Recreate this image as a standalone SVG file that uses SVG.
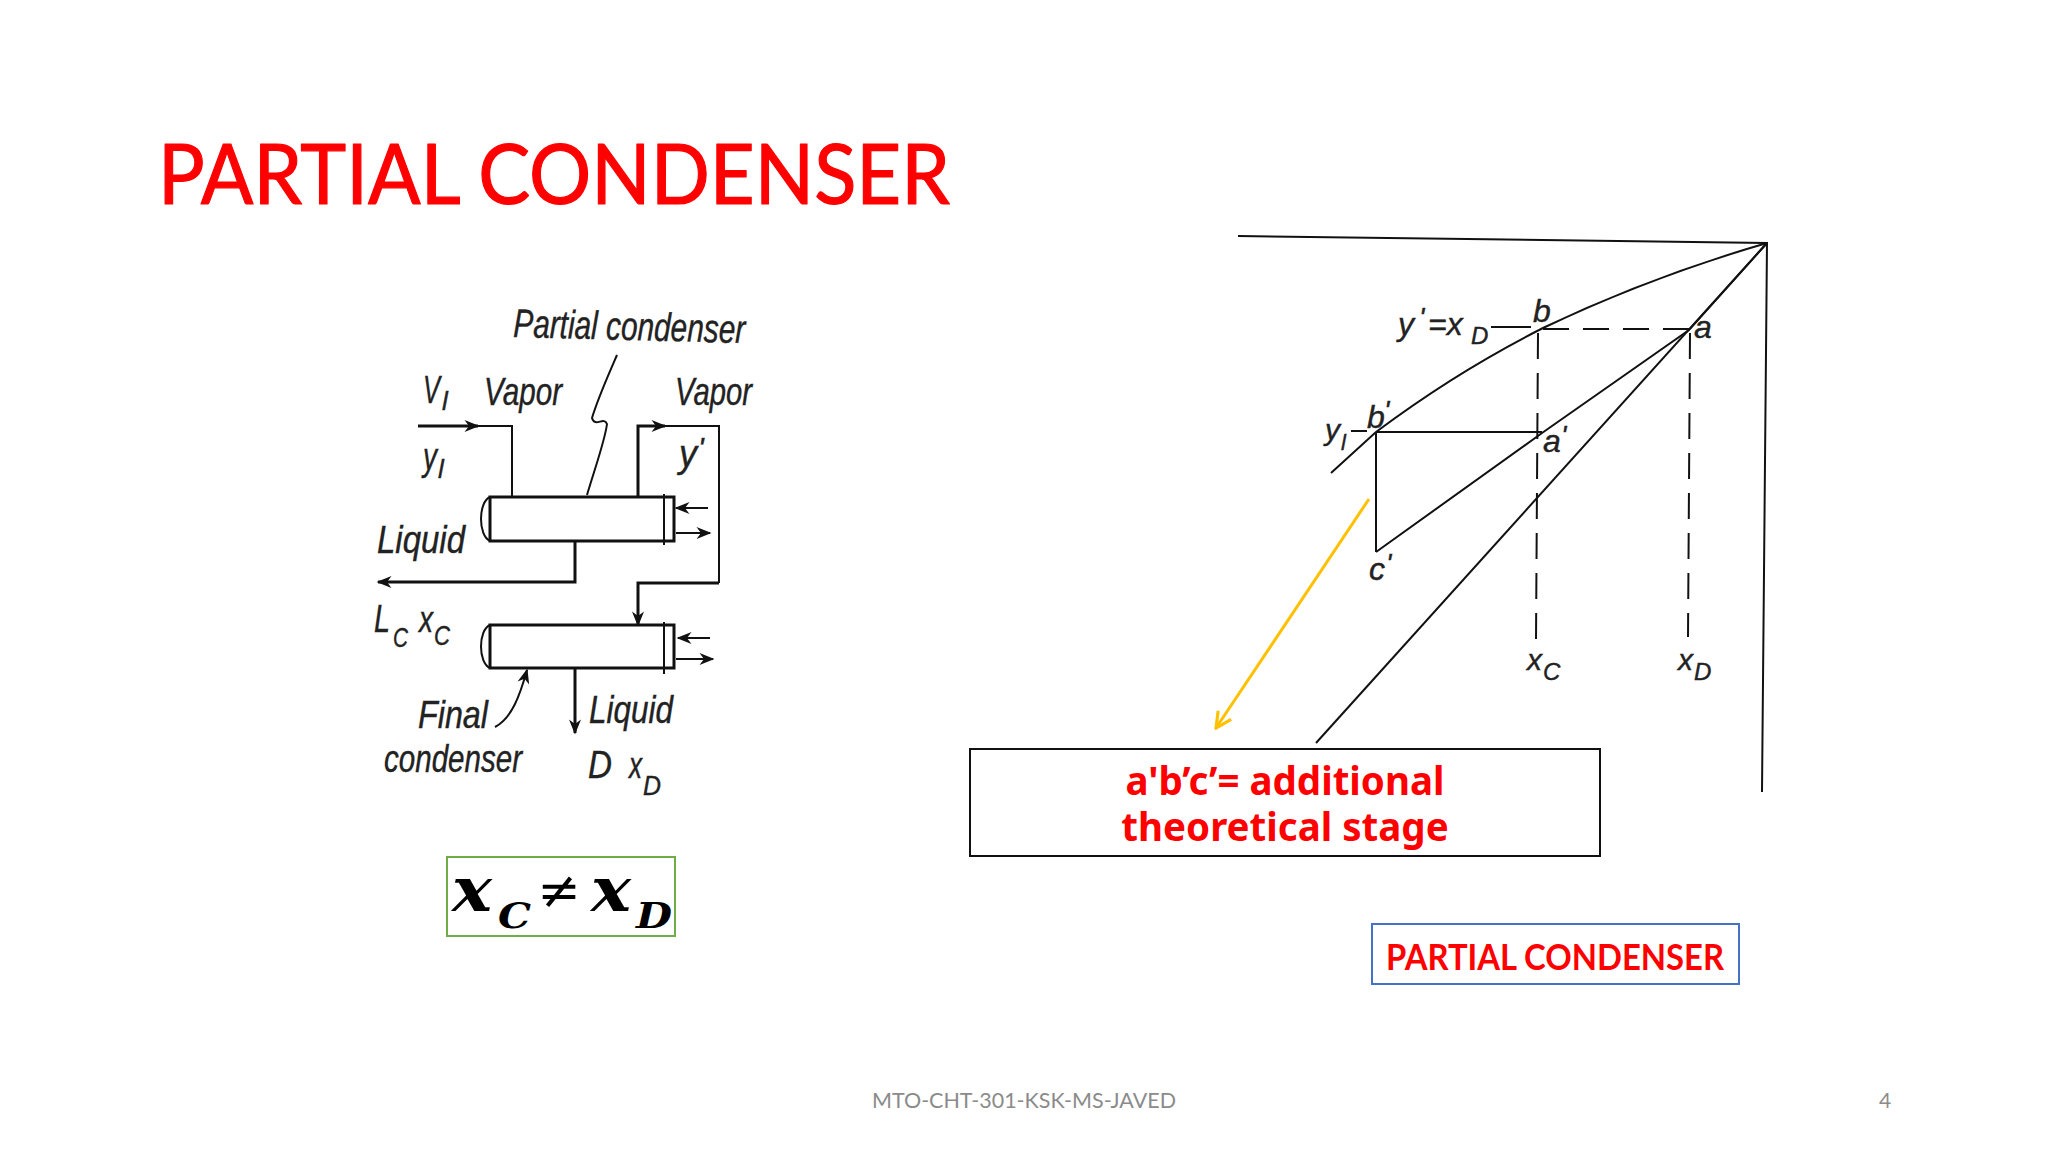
<svg xmlns="http://www.w3.org/2000/svg" width="2048" height="1152" viewBox="0 0 2048 1152">
<style>
.ink{fill:none;stroke:#111;stroke-width:2;stroke-linejoin:miter}
.ink3{fill:none;stroke:#111;stroke-width:3}
.hw{font-family:"Liberation Sans",Arial,sans-serif;font-style:italic;fill:#222;stroke:#222;stroke-width:.4}
.cal{font-family:Lato,"Liberation Sans",sans-serif;fill:#f00}
.ost{font-family:"Noto Sans","Open Sans",sans-serif;font-weight:700;fill:#f00;font-size:38.5px;text-anchor:middle}
.math{font-family:"DejaVu Serif",serif;font-weight:700;font-style:italic;fill:#000}
.foot{font-family:Lato,"Liberation Sans",sans-serif;font-size:21px;fill:#8b8b8b}
</style>
<defs>
<marker id="tip" viewBox="0 0 10 10" refX="9" refY="5" markerWidth="17" markerHeight="15" markerUnits="userSpaceOnUse" orient="auto"><path d="M0 1L10 5L0 9L3 5Z" fill="#111"/></marker>
<marker id="gold" viewBox="0 0 10 10" refX="9" refY="5" markerWidth="6.5" markerHeight="6.5" orient="auto"><path d="M1 1L9 5L1 9" fill="none" stroke="#ffc000" stroke-width="1.6"/></marker>
</defs>
<g id="title"><text class="cal" x="158" y="204" font-size="84" stroke="#f00" stroke-width="1.2" stroke-linejoin="round" textLength="792" lengthAdjust="spacingAndGlyphs">PARTIAL CONDENSER</text></g>
<g id="condenser-flow">
<g id="partial-condenser"><path class="ink3" d="M490 497H674V541H490Z"/><path class="ink" d="M490 497C478 502 478 536 490 541M664 494V545" stroke-width="2.5"/></g>
<g id="final-condenser"><path class="ink3" d="M490 625H674V668H490Z"/><path class="ink" d="M490 625C478 630 478 663 490 668M664 622V674" stroke-width="2.5"/></g>
<g id="connectors">
<path class="ink3" d="M418 426H478" stroke-width="4" marker-end="url(#tip)"/><path class="ink" d="M470 426H512V497"/>
<path class="ink3" d="M638 497V426H665" marker-end="url(#tip)"/><path class="ink" d="M660 426H719V583"/>
<path class="ink3" d="M719 583H638V625" marker-end="url(#tip)"/>
<path class="ink3" d="M575 541V582H378" marker-end="url(#tip)"/>
<path class="ink3" d="M575 668V733" marker-end="url(#tip)"/>
<path class="ink" d="M708 508H676" stroke-width="2.5" marker-end="url(#tip)"/><path class="ink" d="M676 533H710" stroke-width="2.5" marker-end="url(#tip)"/>
<path class="ink" d="M710 638H678" stroke-width="2.5" marker-end="url(#tip)"/><path class="ink" d="M676 659H713" stroke-width="2.5" marker-end="url(#tip)"/>
<path class="ink" d="M617 355C607 378 598 398 592 418C595 428 604 416 607 424C605 440 596 465 587 495"/>
<path class="ink" d="M495 727C512 718 520 695 527 670" marker-end="url(#tip)"/>
</g>
<g id="flow-labels">
<text class="hw" transform="translate(513 337) rotate(1.5)" font-size="40" textLength="232" lengthAdjust="spacingAndGlyphs">Partial condenser</text>
<text class="hw" x="484" y="405" font-size="39" textLength="78" lengthAdjust="spacingAndGlyphs">Vapor</text>
<text class="hw" x="675" y="405" font-size="39" textLength="77" lengthAdjust="spacingAndGlyphs">Vapor</text>
<text class="hw" x="423" y="403" font-size="38" textLength="17" lengthAdjust="spacingAndGlyphs">V</text><text class="hw" x="442" y="410" font-size="26">l</text>
<text class="hw" x="423" y="470" font-size="38" textLength="14" lengthAdjust="spacingAndGlyphs">y</text><text class="hw" x="438" y="478" font-size="26">l</text>
<text class="hw" x="679" y="467" font-size="38" textLength="18" lengthAdjust="spacingAndGlyphs">y</text><text class="hw" x="698" y="458" font-size="30">'</text>
<text class="hw" x="377" y="553" font-size="39" textLength="88" lengthAdjust="spacingAndGlyphs">Liquid</text>
<text class="hw" x="374" y="632" font-size="38" textLength="16" lengthAdjust="spacingAndGlyphs">L</text><text class="hw" x="393" y="647" font-size="28" textLength="15" lengthAdjust="spacingAndGlyphs">C</text>
<text class="hw" x="419" y="632" font-size="36" textLength="14" lengthAdjust="spacingAndGlyphs">x</text><text class="hw" x="434" y="645" font-size="28" textLength="16" lengthAdjust="spacingAndGlyphs">C</text>
<text class="hw" x="418" y="728" font-size="39" textLength="70" lengthAdjust="spacingAndGlyphs">Final</text>
<text class="hw" x="384" y="772" font-size="39" textLength="138" lengthAdjust="spacingAndGlyphs">condenser</text>
<text class="hw" x="589" y="723" font-size="39" textLength="84" lengthAdjust="spacingAndGlyphs">Liquid</text>
<text class="hw" x="588" y="778" font-size="38" textLength="24" lengthAdjust="spacingAndGlyphs">D</text>
<text class="hw" x="629" y="778" font-size="36" textLength="13" lengthAdjust="spacingAndGlyphs">x</text><text class="hw" x="643" y="795" font-size="28" textLength="18" lengthAdjust="spacingAndGlyphs">D</text>
</g>
</g>
<g id="inequality">
<rect x="447" y="857" width="228" height="79" fill="none" stroke="#70ad47" stroke-width="2"/>
<text class="math" x="452" y="911" font-size="62" textLength="40" lengthAdjust="spacingAndGlyphs">x</text>
<text class="math" x="498" y="928" font-size="36" textLength="33" lengthAdjust="spacingAndGlyphs">C</text>
<text x="559" y="908" font-family="DejaVu Serif,serif" font-size="52" text-anchor="middle" fill="#000">≠</text>
<text class="math" x="591" y="911" font-size="62" textLength="40" lengthAdjust="spacingAndGlyphs">x</text>
<text class="math" x="636" y="928" font-size="36" textLength="36" lengthAdjust="spacingAndGlyphs">D</text>
</g>
<g id="mccabe-thiele">
<path class="ink" d="M1238 236L1767 243L1762 792" stroke-width="3"/>
<path class="ink" d="M1331 473L1376 432Q1456 372 1543 328Q1650 277 1767 243" stroke-width="3.5"/>
<path class="ink" d="M1376 552L1542 433L1689 330L1767 243" stroke-width="3"/>
<path class="ink" d="M1767 243L1316 743" stroke-width="2.5"/>
<path class="ink" d="M1376 432H1542M1376 432V552" stroke-width="3"/>
<path class="ink" d="M1491 327H1531M1351 431H1367"/>
<path class="ink" stroke-width="2.5" stroke-dasharray="26 14" d="M1543 329H1689M1538 333L1536 640M1690 333L1688 637" />
<g id="graph-labels">
<text class="hw" x="1398" y="335" font-size="32">y</text><text class="hw" x="1419" y="327" font-size="28">'</text><text class="hw" x="1428" y="335" font-size="32">=x</text><text class="hw" x="1471" y="344" font-size="24">D</text>
<text class="hw" x="1533" y="322" font-size="32">b</text>
<text class="hw" x="1694" y="338" font-size="32">a</text>
<text class="hw" x="1367" y="428" font-size="32">b</text><text class="hw" x="1384" y="420" font-size="28">'</text>
<text class="hw" x="1325" y="440" font-size="30">y</text><text class="hw" x="1341" y="450" font-size="22">l</text>
<text class="hw" x="1543" y="452" font-size="32">a</text><text class="hw" x="1561" y="445" font-size="28">'</text>
<text class="hw" x="1369" y="580" font-size="32">c</text><text class="hw" x="1386" y="573" font-size="28">'</text>
<text class="hw" x="1527" y="670" font-size="30">x</text><text class="hw" x="1543" y="680" font-size="24">C</text>
<text class="hw" x="1678" y="670" font-size="30">x</text><text class="hw" x="1694" y="680" font-size="24">D</text>
</g>
</g>
<g id="connector-callout"><path d="M1369 499L1216 728" fill="none" stroke="#ffc000" stroke-width="3" marker-end="url(#gold)"/></g>
<g id="stage-note">
<rect x="970" y="749" width="630" height="107" fill="#fff" stroke="#111" stroke-width="2"/>
<text class="ost" x="1285" y="795">a'b’c’= additional</text>
<text class="ost" x="1285" y="841">theoretical stage</text>
</g>
<g id="caption">
<rect x="1372" y="924" width="367" height="60" fill="#fff" stroke="#4472c4" stroke-width="2"/>
<text class="cal" x="1386" y="970" font-size="36" font-weight="700" textLength="338" lengthAdjust="spacingAndGlyphs">PARTIAL CONDENSER</text>
</g>
<g id="footer">
<text class="foot" x="872" y="1108" textLength="304" lengthAdjust="spacingAndGlyphs">MTO-CHT-301-KSK-MS-JAVED</text>
<text class="foot" x="1885" y="1108" text-anchor="middle">4</text>
</g>
</svg>
